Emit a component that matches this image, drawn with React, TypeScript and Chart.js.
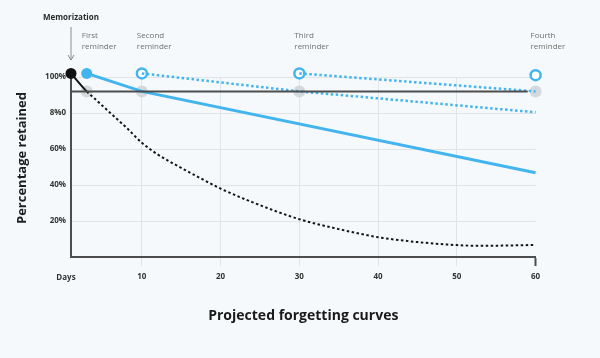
import React, { useEffect, useRef } from 'react';
import { Chart, registerables } from 'chart.js';

Chart.register(...registerables);

const FONT = '"Open Sans", "Noto Sans", sans-serif';
const BLUE = '#42b4ee';

// Axis ticks
const xTickValues = [10, 20, 30, 40, 50, 60];
const yTickValues = [20, 40, 60, 80, 100];
const yTickLabels = ['20%', '40%', '60%', '8%0', '100%'];

// Forgetting curve without reminders (black)
const forgettingDays = [1, 3, 4, 6, 8, 10, 12, 15, 17, 20, 24, 30, 35, 40, 45, 50, 53, 60];
const forgettingValues = [102, 92, 88, 80, 72, 63.5, 57, 49.5, 44.8, 38, 30.5, 21, 15.5, 11, 8.3, 6.6, 6.2, 6.7];

// Curve after first reminder (solid blue)
const reminder1Days = [3, 10, 60];
const reminder1Values = [102, 92, 46.8];

// Curve after second reminder (dotted blue)
const reminder2Days = [10, 30, 60];
const reminder2Values = [102, 92, 80.4];

// Curve after third reminder (dotted blue)
const reminder3Days = [30, 60];
const reminder3Values = [102, 92];

// Threshold line
const thresholdDays = [1, 59];
const thresholdValues = [92, 92];

// Markers
const checkDays = [3, 10, 30, 60];
const checkValues = [92, 92, 92, 92];
const memorizationDays = [1];
const memorizationValues = [102];
const firstReminderDays = [3];
const firstReminderValues = [102];
const laterReminderDays = [10, 30, 60];
const laterReminderValues = [102, 102, 101];

// Annotations
const reminderDays = [3, 10, 30, 60];
const reminderNames = ['First', 'Second', 'Third', 'Fourth'];

const pts = (xs: number[], ys: number[]) => xs.map((x, i) => ({ x, y: ys[i] }));

const annotationPlugin = {
  id: 'annotations',
  afterDraw(chart: any) {
    const { ctx } = chart;
    const x = chart.scales.x;
    ctx.save();
    const mx = x.getPixelForValue(memorizationDays[0]);
    ctx.fillStyle = '#2b2b2b';
    ctx.font = `bold 8px ${FONT}`;
    ctx.textAlign = 'center';
    ctx.textBaseline = 'middle';
    ctx.fillText('Memorization', mx, 18);
    ctx.strokeStyle = '#8a8a8a';
    ctx.lineWidth = 1;
    ctx.beginPath();
    ctx.moveTo(mx, 27);
    ctx.lineTo(mx, 60);
    ctx.stroke();
    ctx.beginPath();
    ctx.moveTo(mx - 3, 55);
    ctx.lineTo(mx, 60);
    ctx.lineTo(mx + 3, 55);
    ctx.stroke();

    ctx.font = `8px ${FONT}`;
    ctx.fillStyle = '#707070';
    ctx.textAlign = 'left';
    reminderDays.forEach((d, i) => {
      const px = x.getPixelForValue(d) - 5;
      ctx.fillText(reminderNames[i], px, 36);
      ctx.fillText('reminder', px, 47);
    });

    ctx.font = `bold 8px ${FONT}`;
    ctx.fillStyle = '#333333';
    ctx.textAlign = 'center';
    ctx.fillText('Days', x.left - 5, 278);

    ctx.translate(22.5, 158);
    ctx.rotate(-Math.PI / 2);
    ctx.font = `bold 13px ${FONT}`;
    ctx.fillStyle = '#1e1e1e';
    ctx.fillText('Percentage retained', 0, 0);
    ctx.restore();
  },
};

export default function App() {
  const ref = useRef<HTMLCanvasElement | null>(null);

  useEffect(() => {
    if (!ref.current) return;
    const lineBase = { showLine: true, pointRadius: 0, clip: false as any, fill: false };
    const chart = new Chart(ref.current, {
      type: 'scatter',
      data: {
        datasets: [
          {
            ...lineBase,
            data: pts(thresholdDays, thresholdValues),
            borderColor: '#4d4d4d',
            borderWidth: 2,
          },
          {
            ...lineBase,
            data: pts(forgettingDays, forgettingValues),
            borderColor: '#151515',
            borderWidth: 2,
            cubicInterpolationMode: 'monotone',
            segment: {
              borderDash: (c: any) => (c.p0DataIndex >= 1 ? [2.5, 2.5] : undefined),
            },
          },
          {
            ...lineBase,
            data: pts(reminder1Days, reminder1Values),
            borderColor: BLUE,
            borderWidth: 3,
          },
          {
            ...lineBase,
            data: pts(reminder2Days, reminder2Values),
            borderColor: BLUE,
            borderWidth: 2.5,
            borderDash: [2.5, 2.5],
          },
          {
            ...lineBase,
            data: pts(reminder3Days, reminder3Values),
            borderColor: BLUE,
            borderWidth: 2.5,
            borderDash: [2.5, 2.5],
          },
          {
            data: pts(checkDays, checkValues),
            showLine: false,
            clip: false as any,
            pointRadius: 6,
            pointBackgroundColor: '#d4d9dd',
            pointBorderWidth: 0,
            pointBorderColor: '#d4d9dd',
          },
          {
            data: pts(memorizationDays, memorizationValues),
            showLine: false,
            clip: false as any,
            pointRadius: 5.5,
            pointBackgroundColor: '#111111',
            pointBorderWidth: 0,
          },
          {
            data: pts(firstReminderDays, firstReminderValues),
            showLine: false,
            clip: false as any,
            pointRadius: 5.5,
            pointBackgroundColor: BLUE,
            pointBorderWidth: 0,
          },
          {
            data: pts(laterReminderDays, laterReminderValues),
            showLine: false,
            clip: false as any,
            pointRadius: 5,
            pointBackgroundColor: '#ffffff',
            pointBorderColor: BLUE,
            pointBorderWidth: 2.5,
          },
        ] as any,
      },
      options: {
        animation: false,
        responsive: false,
        devicePixelRatio: 1,
        layout: { padding: { left: 0, top: 77, right: 64.4, bottom: 0 } },
        plugins: {
          legend: { display: false },
          tooltip: { enabled: false },
        },
        scales: {
          x: {
            type: 'linear',
            min: 1,
            max: 60,
            afterBuildTicks: (s: any) => {
              s.ticks = xTickValues.map((v) => ({ value: v }));
            },
            afterFit: (s: any) => {
              s.height = 101;
            },
            grid: {
              color: (c: any) => (c.tick && c.tick.value === 60 ? 'rgba(0,0,0,0)' : '#e1e4e7'),
              tickColor: (c: any) => (c.tick && c.tick.value === 60 ? '#4d4d4d' : '#e1e4e7'),
              tickWidth: (c: any) => (c.tick && c.tick.value === 60 ? 2 : 1),
              lineWidth: 1,
              tickLength: 9,
            },
            border: { display: true, color: '#4d4d4d', width: 2 },
            ticks: {
              padding: 6,
              color: '#333333',
              font: { family: FONT, size: 8, weight: 'bold' },
              maxRotation: 0,
              callback: (v: any) => String(v),
            },
            title: {
              display: true,
              text: 'Projected forgetting curves',
              color: '#1a1a1a',
              font: { family: FONT, size: 14, weight: 'bold' },
              padding: { top: 0, bottom: 33.6 },
            },
          },
          y: {
            type: 'linear',
            min: 0,
            max: 100,
            afterBuildTicks: (s: any) => {
              s.ticks = yTickValues.map((v) => ({ value: v }));
            },
            afterFit: (s: any) => {
              s.width = 71;
            },
            grid: { color: '#e1e4e7', lineWidth: 1, drawTicks: false },
            border: { display: true, color: '#4d4d4d', width: 2 },
            ticks: {
              padding: 5,
              color: '#333333',
              font: { family: FONT, size: 8, weight: 'bold' },
              callback: (v: any) => {
                const i = yTickValues.indexOf(Number(v));
                return i >= 0 ? yTickLabels[i] : '';
              },
            },
          },
        },
      } as any,
      plugins: [annotationPlugin],
    });
    return () => chart.destroy();
  }, []);

  return (
    <div
      style={{
        position: 'fixed',
        left: 0,
        top: 0,
        width: 600,
        height: 358,
        background: '#f6f9fb',
      }}
    >
      <canvas ref={ref} width={600} height={358} style={{ width: 600, height: 358, display: 'block' }} />
    </div>
  );
}
